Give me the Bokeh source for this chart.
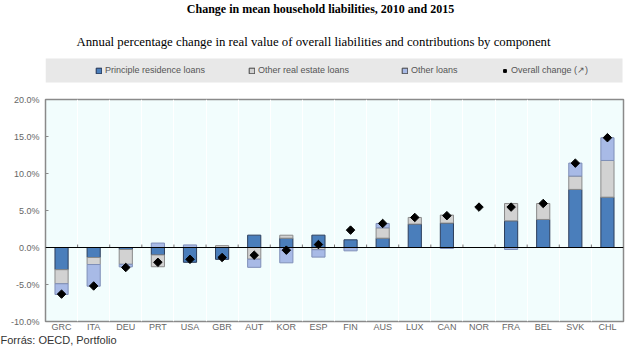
import numpy as np
from bokeh.plotting import figure
from bokeh.models import Range1d, FixedTicker, Span, Legend, LegendItem, Title
from bokeh.layouts import column
from bokeh.embed import file_html
from bokeh.resources import INLINE
from bokeh.core.properties import value

# ---------------- data ----------------
countries = ["GRC", "ITA", "DEU", "PRT", "USA", "GBR", "AUT", "KOR", "ESP",
             "FIN", "AUS", "LUX", "CAN", "NOR", "FRA", "BEL", "SVK", "CHL"]
principle_residence = [-3.0, -1.35, -0.27, -1.0, -2.0, -1.6, 1.67, 1.26, 1.67,
                       1.04, 1.26, 3.16, 3.3, 0.0, 3.6, 3.79, 7.85, 6.8]
other_real_estate = [-1.9, -0.95, -2.0, -1.6, 0.0, 0.25, -1.58, 0.4, -0.3,
                     0.0, 1.4, 0.9, 1.08, 0.0, 2.35, 2.16, 1.8, 4.96]
other_loans = [-1.45, -2.93, -0.35, 0.6, 0.35, 0.0, -1.1, -2.07, -1.0,
               -0.45, 0.59, 0.0, -0.13, 0.0, -0.27, 0.0, 1.76, 3.07]
overall_change = [-6.3, -5.2, -2.7, -2.0, -1.6, -1.35, -1.04, -0.36, 0.4,
                  2.35, 3.25, 4.06, 4.3, 5.46, 5.46, 5.95, 11.4, 14.84]
y_ticks = [-10, -5, 0, 5, 10, 15, 20]

title_text = "Change in mean household liabilities, 2010 and 2015"
subtitle_text = ("Annual percentage change in real value of overall liabilities "
                 "and contributions by component")
legend_labels = ["Principle residence loans", "Other real estate loans",
                 "Other loans", "Overall change (\u2197)"]
source_text = "Forr\u00e1s: OECD, Portfolio"

# ---------------- styles ----------------
BLUE, GREY, LBLUE = "#4a7ebb", "#d2d2d2", "#a8bae6"
EDGES = ["#2c3e5c", "#8a8a8a", "#7f8fb8"]
SERIF = "Liberation Serif"
SANS = "Liberation Sans"
LEFT, RIGHT = 45, 17
DIAMOND_ANGLE = np.pi / 4

# ---------------- header (titles + legend band) ----------------
# frame is aligned with the chart frame below; x data units = canvas pixels
hdr = figure(width=640, height=84, x_range=Range1d(LEFT, 640 - RIGHT),
             y_range=Range1d(0, 84), toolbar_location=None, output_backend="svg",
             x_axis_type=None, y_axis_type=None, min_border_left=LEFT,
             min_border_right=RIGHT, min_border_top=0, min_border_bottom=0,
             outline_line_color=None)
hdr.background_fill_color = "white"
hdr.border_fill_color = "white"
hdr.quad(left=[45], right=[622], bottom=[2], top=[26],
         fill_color="#e8e8e8", line_color=None)
hdr.text(x=[320], y=[76], text=[title_text], text_font=value(SERIF),
         text_font_style="bold", text_font_size="12px", text_align="center",
         text_baseline="middle", text_color="black")
hdr.text(x=[313], y=[43], text=[subtitle_text], text_font=value(SERIF),
         text_font_size="12.8px", text_align="center", text_baseline="middle",
         text_color="black")

nan = [np.nan]
r1 = hdr.vbar(x=nan, top=nan, width=1, fill_color=BLUE, line_color="#1f2f4f")
r2 = hdr.vbar(x=nan, top=nan, width=1, fill_color=GREY, line_color="#404040")
r3 = hdr.vbar(x=nan, top=nan, width=1, fill_color=LBLUE, line_color="#404040")
r4 = hdr.scatter(x=nan, y=nan, marker="square", angle=DIAMOND_ANGLE, size=5,
                 color="black")
leg_x = [50, 203, 356, 456]
for r, lab, xp in zip([r1, r2, r3, r4], legend_labels, leg_x):
    lg = Legend(items=[LegendItem(label=lab, renderers=[r])], location=(xp, 4),
                orientation="horizontal", padding=0, margin=0, spacing=0,
                glyph_width=7, glyph_height=7, label_standoff=3,
                label_height=20, label_width=10,
                label_text_font=SANS, label_text_font_size="9px",
                label_text_color="#555555", background_fill_alpha=0,
                border_line_alpha=0)
    hdr.add_layout(lg)

# ---------------- main chart ----------------
n = len(countries)
x = np.arange(n)
p = figure(width=640, height=269, x_range=Range1d(-0.5, n - 0.5),
           y_range=Range1d(-10, 20), toolbar_location=None, output_backend="svg",
           min_border_left=LEFT, min_border_right=RIGHT, min_border_top=15,
           min_border_bottom=32)
p.background_fill_color = "#f2fdfd"
p.border_fill_color = "white"
p.outline_line_color = "#8a8a8a"
p.outline_line_width = 1.5

pos_base = np.zeros(n)
neg_base = np.zeros(n)
for vals, color, edge in zip([principle_residence, other_real_estate, other_loans],
                             [BLUE, GREY, LBLUE], EDGES):
    v = np.array(vals, dtype=float)
    pos = np.where(v > 0, v, 0.0)
    neg = np.where(v < 0, v, 0.0)
    bottom = np.where(v > 0, pos_base, neg_base + neg)
    top = np.where(v > 0, pos_base + pos, neg_base)
    m = v != 0
    p.vbar(x=x[m], bottom=bottom[m], top=top[m], width=0.41,
           fill_color=color, line_color=edge, line_width=1)
    pos_base += pos
    neg_base += neg

p.add_layout(Span(location=0, dimension="width", line_color="black", line_width=1))
bounds = x[:-1] + 0.5
p.segment(x0=bounds, y0=np.zeros(len(bounds)), x1=bounds,
          y1=np.full(len(bounds), 0.4), line_color="#777777", line_width=1)
p.scatter(x=x, y=overall_change, marker="square", angle=DIAMOND_ANGLE, size=6,
          color="black")

# axes
p.yaxis.ticker = FixedTicker(ticks=y_ticks)
p.yaxis.major_label_overrides = {t: f"{t:.1f}%" for t in y_ticks}
p.yaxis.major_tick_in = 3
p.yaxis.major_tick_out = 0
p.yaxis.minor_tick_line_color = None
p.yaxis.major_tick_line_color = "#8a8a8a"
p.yaxis.axis_line_color = "#8a8a8a"
p.yaxis.major_label_standoff = 6
p.yaxis.major_label_text_font = SANS
p.yaxis.major_label_text_font_size = "9px"
p.yaxis.major_label_text_color = "#666666"

p.xaxis.ticker = FixedTicker(ticks=list(x))
p.xaxis.major_label_overrides = {int(i): c for i, c in zip(x, countries)}
p.xaxis.major_tick_line_color = None
p.xaxis.minor_tick_line_color = None
p.xaxis.axis_line_color = None
p.xaxis.major_tick_in = 0
p.xaxis.major_tick_out = 0
p.xaxis.major_label_standoff = 0
p.xaxis.major_label_text_font = SANS
p.xaxis.major_label_text_font_size = "9px"
p.xaxis.major_label_text_color = "#666666"

p.ygrid.visible = False
p.xgrid.ticker = FixedTicker(ticks=list(bounds))
p.xgrid.grid_line_color = "white"
p.xgrid.grid_line_width = 1

src = Title(text=source_text, align="left", offset=-45, standoff=-6,
            text_font=SANS, text_font_size="11px", text_font_style="normal",
            text_color="#333333")
p.add_layout(src, "below")

layout = column(hdr, p, spacing=0)
open("out.html", "w").write(file_html(layout, INLINE))
